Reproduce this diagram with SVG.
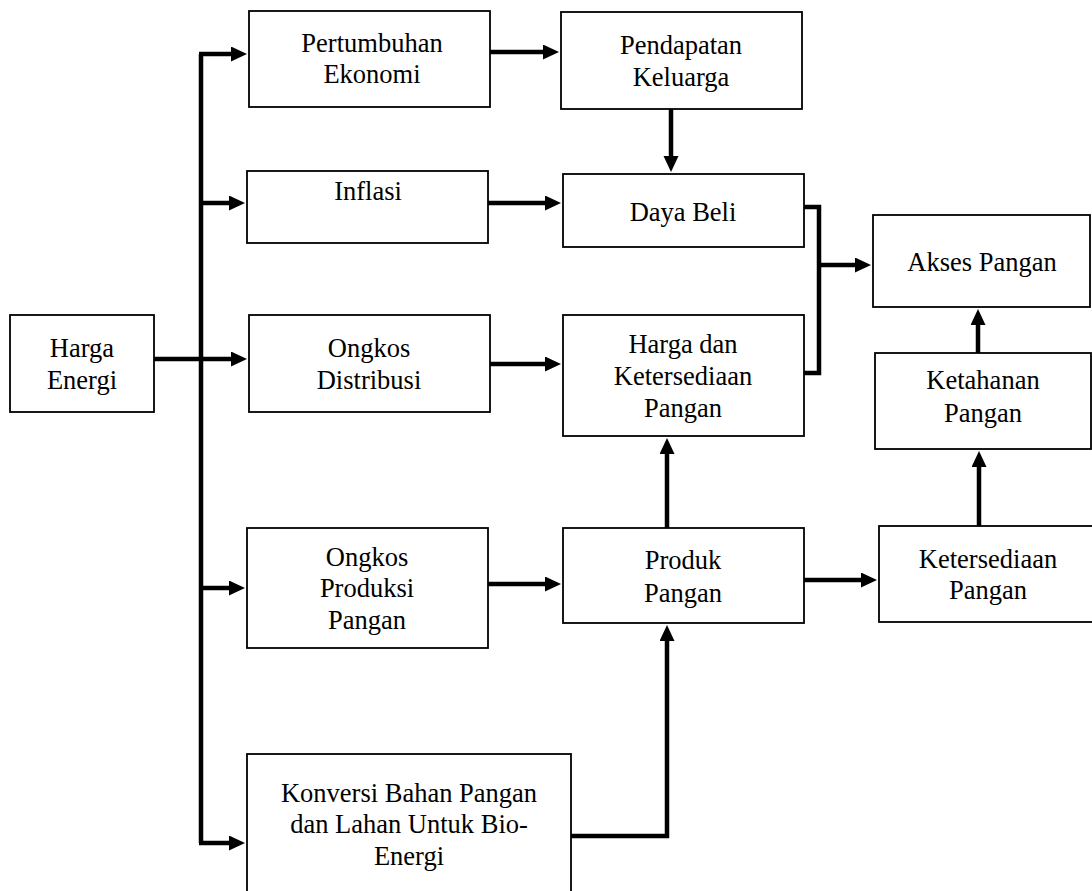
<svg xmlns="http://www.w3.org/2000/svg" width="1092" height="891" viewBox="0 0 1092 891">
<style>
.box{fill:#fff;stroke:#000;stroke-width:1.8}
.t{font-family:"Liberation Serif","Times New Roman",serif;font-size:26.5px;fill:#000;text-anchor:middle}
.c{fill:none;stroke:#000;stroke-width:4.5;stroke-linejoin:miter}
.a{marker-end:url(#ah)}
</style>
<defs>
<marker id="ah" markerUnits="userSpaceOnUse" markerWidth="18" markerHeight="16" refX="2" refY="7.5" orient="auto">
<path d="M0,0 L16,7.5 L0,15 z" fill="#000"/>
</marker>
</defs>
<rect width="1092" height="891" fill="#fff"/>
<g id="connectors">
<path class="c" d="M201,54 V843"/>
<path class="c a" d="M199,54 H233"/>
<path class="c a" d="M199,203 H231"/>
<path class="c a" d="M154,359 H233"/>
<path class="c a" d="M199,588 H231"/>
<path class="c a" d="M199,843 H231"/>
<path class="c a" d="M490,52 H545"/>
<path class="c a" d="M488,203 H547"/>
<path class="c a" d="M490,364 H547"/>
<path class="c a" d="M488,584 H547"/>
<path class="c a" d="M671,109 V158"/>
<path class="c" d="M804,207 H819 V373 H804"/>
<path class="c a" d="M819,265 H857"/>
<path class="c a" d="M667,528 V452"/>
<path class="c a" d="M571,836 H667 V639"/>
<path class="c a" d="M804,580 H863"/>
<path class="c a" d="M979,526 V465"/>
<path class="c a" d="M978,353 V323"/>
</g>
<g id="harga-energi"><rect class="box" x="10" y="315" width="144" height="97"/><text class="t" x="82" y="357">Harga</text><text class="t" x="82" y="389">Energi</text></g>
<g id="pertumbuhan"><rect class="box" x="249" y="11" width="241" height="96"/><text class="t" x="372" y="52">Pertumbuhan</text><text class="t" x="372" y="83">Ekonomi</text></g>
<g id="inflasi"><rect class="box" x="247" y="171" width="241" height="72"/><text class="t" x="368" y="200">Inflasi</text></g>
<g id="ongkos-distribusi"><rect class="box" x="249" y="315" width="241" height="97"/><text class="t" x="369" y="357">Ongkos</text><text class="t" x="369" y="389">Distribusi</text></g>
<g id="ongkos-produksi"><rect class="box" x="247" y="528" width="241" height="120"/><text class="t" x="367" y="566">Ongkos</text><text class="t" x="367" y="597">Produksi</text><text class="t" x="367" y="629">Pangan</text></g>
<g id="konversi"><rect class="box" x="247" y="754" width="324" height="150"/><text class="t" x="409" y="802">Konversi Bahan Pangan</text><text class="t" x="409" y="833">dan Lahan Untuk Bio-</text><text class="t" x="409" y="865">Energi</text></g>
<g id="pendapatan"><rect class="box" x="561" y="12" width="241" height="97"/><text class="t" x="681" y="54">Pendapatan</text><text class="t" x="681" y="86">Keluarga</text></g>
<g id="daya-beli"><rect class="box" x="563" y="174" width="241" height="73"/><text class="t" x="683" y="221">Daya Beli</text></g>
<g id="harga-ketersediaan"><rect class="box" x="563" y="315" width="241" height="121"/><text class="t" x="683" y="353">Harga dan</text><text class="t" x="683" y="385">Ketersediaan</text><text class="t" x="683" y="417">Pangan</text></g>
<g id="produk-pangan"><rect class="box" x="563" y="528" width="241" height="95"/><text class="t" x="683" y="569">Produk</text><text class="t" x="683" y="602">Pangan</text></g>
<g id="akses-pangan"><rect class="box" x="873" y="215" width="217" height="92"/><text class="t" x="982" y="271">Akses Pangan</text></g>
<g id="ketahanan-pangan"><rect class="box" x="875" y="353" width="216" height="96"/><text class="t" x="983" y="389">Ketahanan</text><text class="t" x="983" y="422">Pangan</text></g>
<g id="ketersediaan-pangan"><rect class="box" x="879" y="526" width="220" height="96"/><text class="t" x="988" y="568">Ketersediaan</text><text class="t" x="988" y="599">Pangan</text></g>
</svg>
